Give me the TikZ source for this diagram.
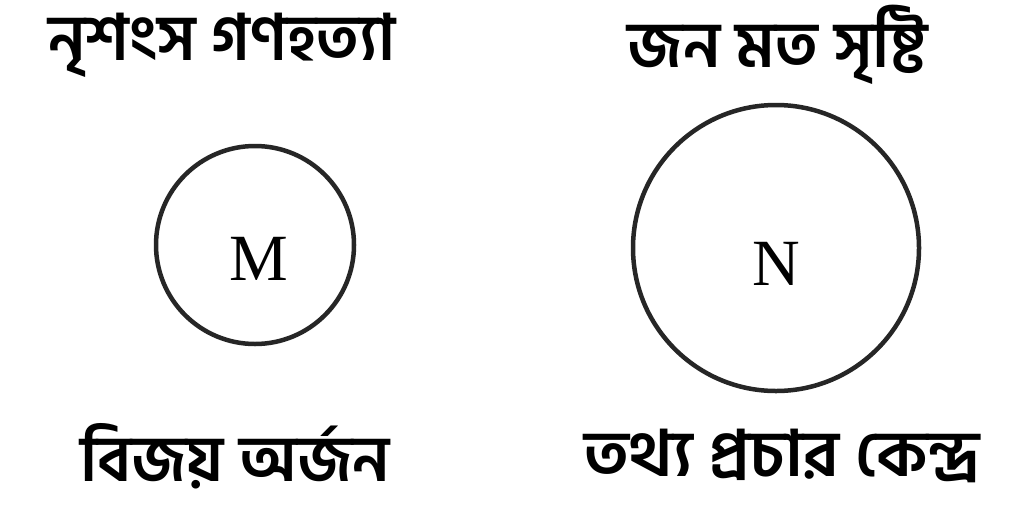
\documentclass[tikz,border=0pt]{standalone}
\usepackage{fontspec}
\setmainfont{Liberation Serif}
\newfontfamily\bn[Script=Bengali]{Hind Siliguri}
\tikzset{
  ring/.style={circle, draw=black!85, line width=4.5pt, inner sep=0pt},
  lbl/.style={font=\bn\bfseries\fontsize{64}{70}\selectfont, inner sep=0pt},
  letter/.style={font=\fontsize{66}{72}\selectfont, inner sep=0pt}
}
\begin{document}
\begin{tikzpicture}[x=1pt,y=-1pt]
\useasboundingbox[fill=white] (0,0) rectangle (1024,528);
\node[ring, minimum size=198pt] (m) at (255,245) {};
\node[ring, minimum size=286pt] (n) at (776,248) {};
\node[letter] (ml) at ([xshift=4pt,yshift=-14pt]m.center) {M};
\node[letter] (nl) at ([yshift=-16pt]n.center) {N};
\node[lbl] (t1) at (222,45) {নৃশংস গণহত্যা};
\node[lbl] (t2) at (778,45) {জন মত সৃষ্টি};
\node[lbl] (t3) at (235,456) {বিজয় অর্জন};
\node[lbl, xscale=1.05] (t4) at (782,456) {তথ্য প্রচার কেন্দ্র};
\end{tikzpicture}
\end{document}
